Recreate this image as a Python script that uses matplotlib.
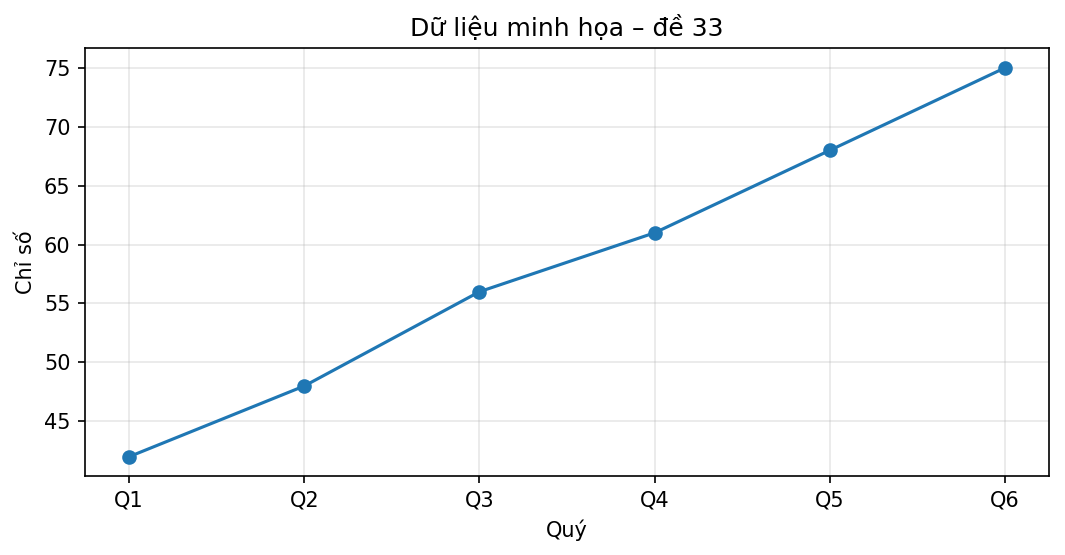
import matplotlib
matplotlib.use('Agg')
import matplotlib.pyplot as plt

quarters = ['Q1', 'Q2', 'Q3', 'Q4', 'Q5', 'Q6']
values = [42, 48, 56, 61, 68, 75]

fig, ax = plt.subplots(figsize=(7.1, 3.7), dpi=150)
ax.plot(quarters, values, marker='o', color='#1f77b4')
ax.set_title('Dữ liệu minh họa – đề 33')
ax.set_xlabel('Quý')
ax.set_ylabel('Chỉ số')
ax.grid(True, alpha=0.3)
fig.subplots_adjust(left=0.08, right=0.985, top=0.913, bottom=0.142)
fig.savefig('out.png')
plt.close(fig)
